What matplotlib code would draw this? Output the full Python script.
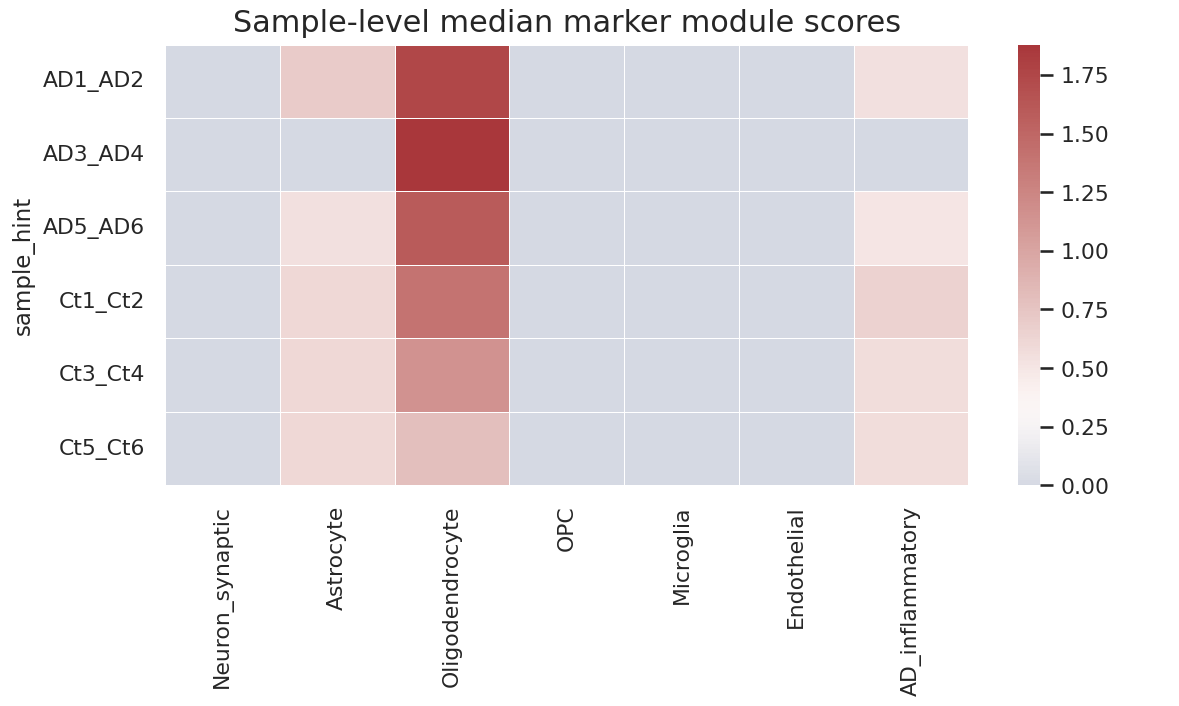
import pandas as pd
import matplotlib.pyplot as plt
import seaborn as sns

sns.set_theme()

samples = ["AD1_AD2", "AD3_AD4", "AD5_AD6", "Ct1_Ct2", "Ct3_Ct4", "Ct5_Ct6"]
modules = ["Neuron_synaptic", "Astrocyte", "Oligodendrocyte", "OPC",
           "Microglia", "Endothelial", "AD_inflammatory"]

neuron = [0, 0, 0, 0, 0, 0]
astro = [0.70, 0.0, 0.55, 0.60, 0.60, 0.60]
oligo = [1.75, 1.88, 1.60, 1.40, 1.15, 0.80]
opc = [0, 0, 0, 0, 0, 0]
micro = [0, 0, 0, 0, 0, 0]
endo = [0, 0, 0, 0, 0, 0]
ad_inf = [0.55, 0.0, 0.50, 0.65, 0.57, 0.57]

df = pd.DataFrame({
    "Neuron_synaptic": neuron,
    "Astrocyte": astro,
    "Oligodendrocyte": oligo,
    "OPC": opc,
    "Microglia": micro,
    "Endothelial": endo,
    "AD_inflammatory": ad_inf,
}, index=pd.Index(samples, name="sample_hint"))[modules]

fig, ax = plt.subplots(figsize=(7.86, 4.71))
sns.heatmap(df, cmap="vlag", center=0.33, linewidths=0.4, linecolor="white", ax=ax)
ax.set_title("Sample-level median marker module scores", fontsize=14.5)
ax.set_xlabel("")
ax.set_ylabel("sample_hint", fontsize=11)
ax.tick_params(labelsize=10.5)
fig.axes[-1].tick_params(labelsize=10.5)
plt.tight_layout(pad=0.4)
plt.savefig("out.png", dpi=150)
plt.close(fig)
